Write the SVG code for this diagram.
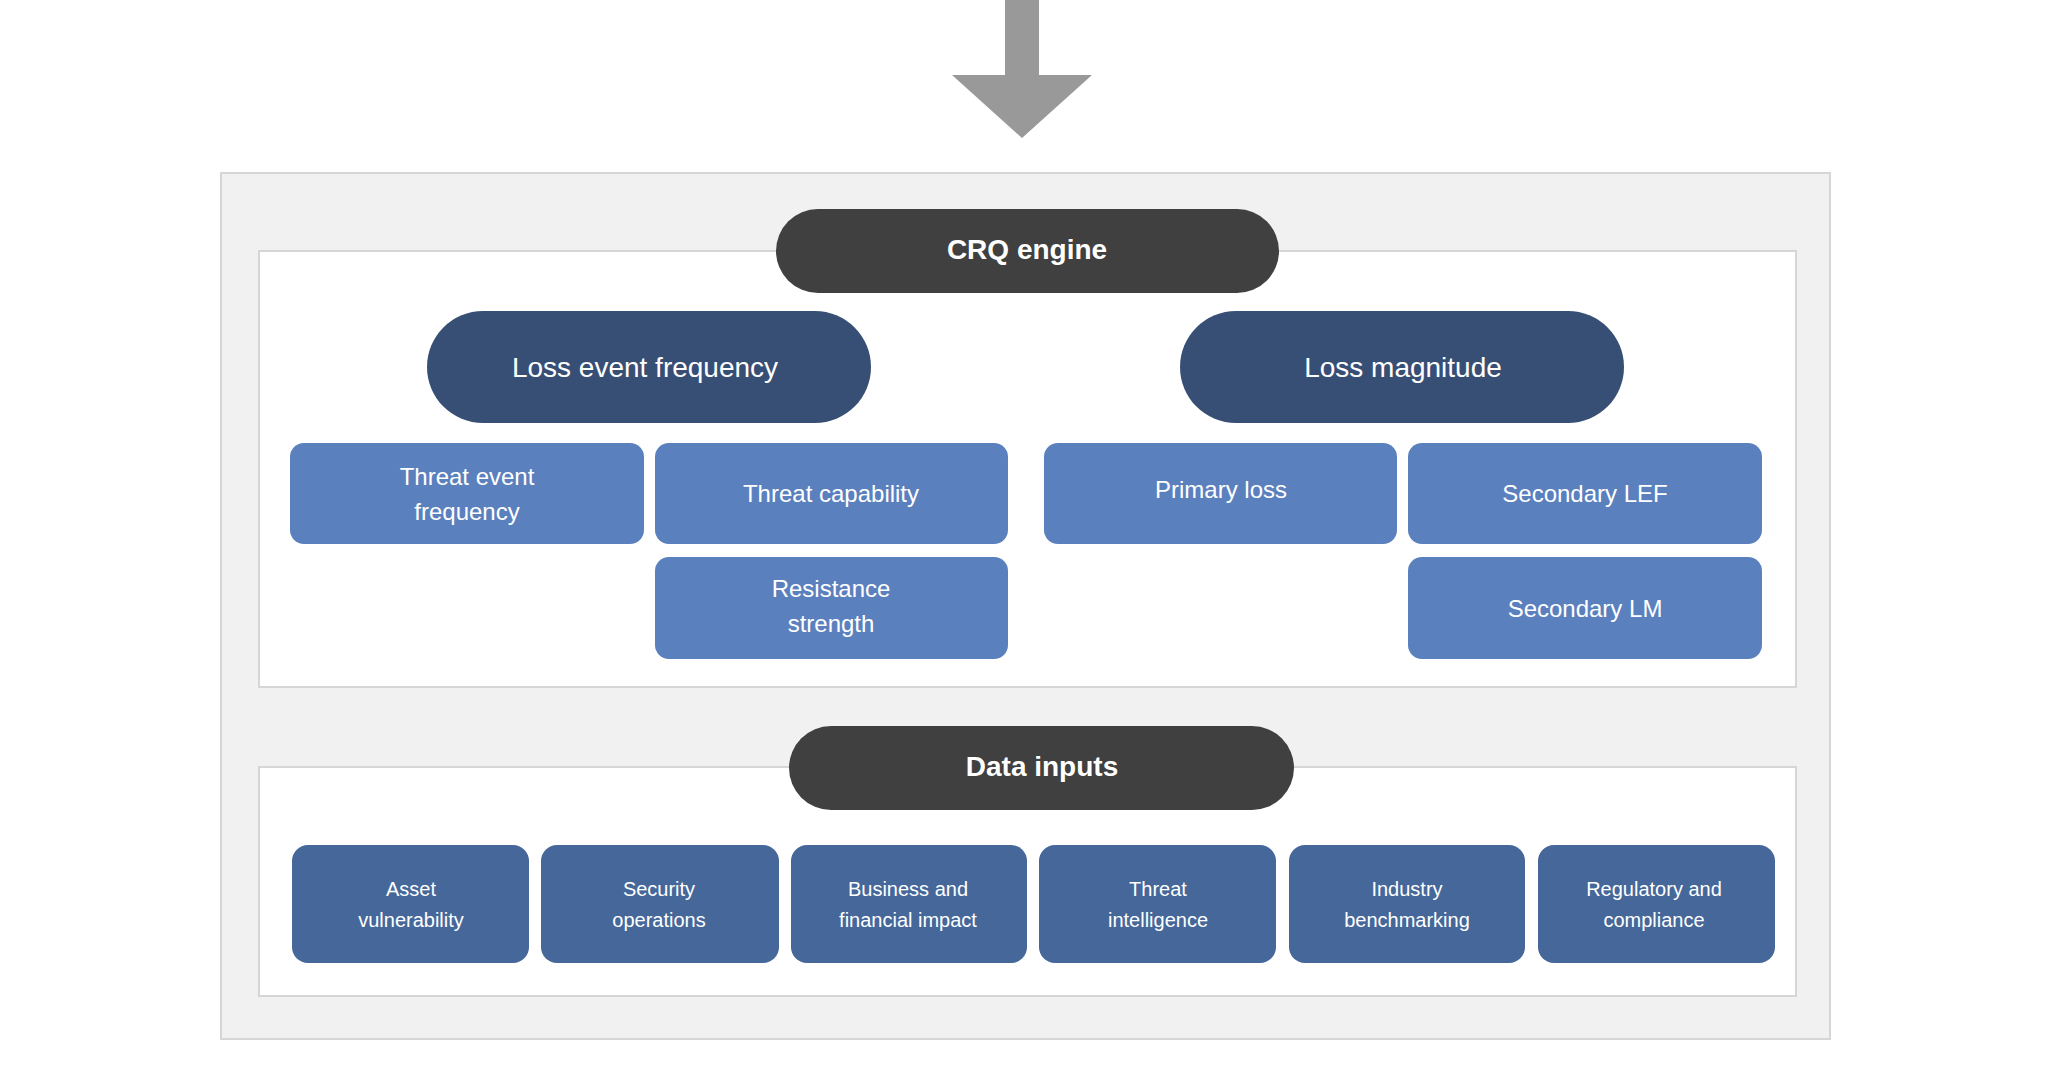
<svg xmlns="http://www.w3.org/2000/svg" width="2049" height="1077" viewBox="0 0 2049 1077">
<style>
text{font-family:"Liberation Sans",Arial,sans-serif;fill:#fff;text-anchor:middle;dominant-baseline:central}
.frame{fill:#f1f1f1;stroke:#d6d6d6;stroke-width:2}
.panel{fill:#fff;stroke:#d6d6d6;stroke-width:2}
.dark{fill:#404040}
.navy{fill:#374f75}
.light{fill:#5b80be}
.input{fill:#456799}
.h{font-size:28px;font-weight:bold}
.m{font-size:28px}
.s{font-size:24px}
.xs{font-size:20px}
</style>
<rect class="frame" x="221" y="173" width="1609" height="866"/>
<rect class="panel" x="259" y="251" width="1537" height="436"/>
<rect class="panel" x="259" y="767" width="1537" height="229"/>
<g id="connectors">
<polygon points="1005,0 1039,0 1039,75 1092,75 1022,138 952,75 1005,75" fill="#999"/>
</g>
<g id="crq"><rect class="dark" x="776" y="209" width="503" height="84" rx="42"/><text class="h" x="1027" y="249">CRQ engine</text></g>
<g id="lef"><rect class="navy" x="427" y="311" width="444" height="112" rx="56"/><text class="m" x="645" y="367">Loss event frequency</text></g>
<g id="lm"><rect class="navy" x="1180" y="311" width="444" height="112" rx="56"/><text class="m" x="1403" y="367">Loss magnitude</text></g>
<g id="tef"><rect class="light" x="290" y="443" width="354" height="101" rx="14"/><text class="s" x="467" y="476">Threat event</text><text class="s" x="467" y="511">frequency</text></g>
<g id="tcap"><rect class="light" x="655" y="443" width="353" height="101" rx="14"/><text class="s" x="831" y="493">Threat capability</text></g>
<g id="rs"><rect class="light" x="655" y="557" width="353" height="102" rx="14"/><text class="s" x="831" y="588">Resistance</text><text class="s" x="831" y="623">strength</text></g>
<g id="pl"><rect class="light" x="1044" y="443" width="353" height="101" rx="14"/><text class="s" x="1221" y="489">Primary loss</text></g>
<g id="slef"><rect class="light" x="1408" y="443" width="354" height="101" rx="14"/><text class="s" x="1585" y="493">Secondary LEF</text></g>
<g id="slm"><rect class="light" x="1408" y="557" width="354" height="102" rx="14"/><text class="s" x="1585" y="608">Secondary LM</text></g>
<g id="data"><rect class="dark" x="789" y="726" width="505" height="84" rx="42"/><text class="h" x="1042" y="766">Data inputs</text></g>
<g id="in1"><rect class="input" x="292" y="845" width="237" height="118" rx="16"/><text class="xs" x="411" y="889">Asset</text><text class="xs" x="411" y="920">vulnerability</text></g>
<g id="in2"><rect class="input" x="541" y="845" width="238" height="118" rx="16"/><text class="xs" x="659" y="889">Security</text><text class="xs" x="659" y="920">operations</text></g>
<g id="in3"><rect class="input" x="791" y="845" width="236" height="118" rx="16"/><text class="xs" x="908" y="889">Business and</text><text class="xs" x="908" y="920">financial impact</text></g>
<g id="in4"><rect class="input" x="1039" y="845" width="237" height="118" rx="16"/><text class="xs" x="1158" y="889">Threat</text><text class="xs" x="1158" y="920">intelligence</text></g>
<g id="in5"><rect class="input" x="1289" y="845" width="236" height="118" rx="16"/><text class="xs" x="1407" y="889">Industry</text><text class="xs" x="1407" y="920">benchmarking</text></g>
<g id="in6"><rect class="input" x="1538" y="845" width="237" height="118" rx="16"/><text class="xs" x="1654" y="889">Regulatory and</text><text class="xs" x="1654" y="920">compliance</text></g>
</svg>
